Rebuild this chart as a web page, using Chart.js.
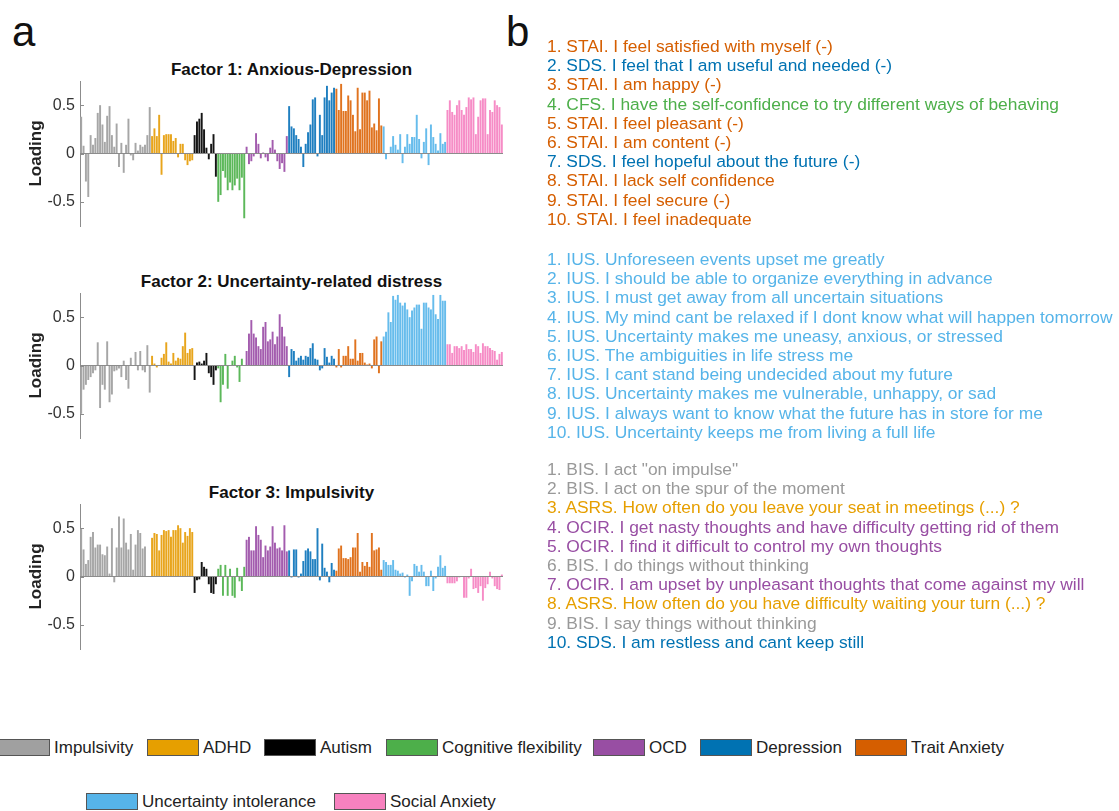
<!DOCTYPE html>
<html>
<head>
<meta charset="utf-8">
<script src="https://cdn.jsdelivr.net/npm/chart.js@4"></script>
<style>
  body { margin: 0; width: 1119px; height: 811px; background: #fff; position: relative; overflow: hidden;
         font-family: "Liberation Sans", Arial, sans-serif; }
  .panel { position: absolute; font-size: 42px; line-height: 42px; color: #111; }
  .box { position: absolute; left: 20px; width: 543px; height: 170px; }
  .ftitle { position: absolute; left: 20px; width: 543px; text-align: center; font-size: 17px; line-height: 20px;
            font-weight: bold; color: #111; white-space: nowrap; }
  .list { position: absolute; left: 547px; font-size: 17.4px; line-height: 19.2px; white-space: nowrap; }
  .item { position: absolute; display: flex; align-items: center; font-size: 17px; line-height: 17px; color: #222; white-space: nowrap; }
  .sw { width: 50px; height: 15px; border: 1px solid #555; margin-right: 4px; }
</style>
</head>
<body>
<div class="panel" style="left:12px; top:11px;">a</div>
<div class="panel" style="left:506px; top:11px;">b</div>

<div class="ftitle" id="t1" style="top:60px;"></div>
<div class="ftitle" id="t2" style="top:272px;"></div>
<div class="ftitle" id="t3" style="top:483px;"></div>
<div class="box" style="top:59px;"><canvas id="f1" width="543" height="170"></canvas></div>
<div class="box" style="top:271px;"><canvas id="f2" width="543" height="170"></canvas></div>
<div class="box" style="top:482px;"><canvas id="f3" width="543" height="170"></canvas></div>

<div class="list" id="list1" style="top:37px;"></div>
<div class="list" id="list2" style="top:250px;"></div>
<div class="list" id="list3" style="top:460px;"></div>

<div id="legend"></div>

<script>
const groups = ["Impulsivity", "ADHD", "Autism", "Cognitive flexibility", "OCD",
  "Depression", "Trait Anxiety", "Uncertainty intolerance", "Social Anxiety"];
const groupColors = ["#a0a0a0", "#e69f00", "#000000", "#4daf4a", "#984ea3",
  "#0072b2", "#d55e00", "#56b4e9", "#f781bf"];
const barColors = ["#a6a6a6", "#e8a51c", "#151515", "#5cb85a", "#a35cae",
  "#1f7fc0", "#e0731f", "#66bcec", "#f68cc6"];

// loadings per questionnaire, in item order
const factor1 = [
  [0.38,0.08,-0.29,-0.45,0.19,0.09,0.16,0.42,0.5,0.3,0.12,0.39,0.49,0.19,0.07,0.31,-0.14,0.11,-0.2,0.09,0.36,-0.02,-0.07,0.11,0.03,0.09,0.07,0.09,0.19,0.48],
  [0.18,0.26,0.18,0.4,-0.22,0.19,0.2,0.2,0.2,0.13,0.16,-0.04,0.1,0.1,-0.07,-0.12,-0.08,-0.07],
  [0.19,0.33,0.36,0.42,0.25,0.06,-0.06,0.1,0.2,-0.24],
  [-0.5,-0.43,-0.18,-0.25,-0.38,-0.3,-0.38,-0.33,-0.26,-0.38,-0.25,-0.67],
  [0.07,-0.11,-0.08,-0.03,0.21,0.1,-0.05,0.01,-0.04,-0.08,0.06,0.14,0.04,-0.08,-0.16,-0.1,-0.19,0.18],
  [0.49,0.28,0.26,0.19,0.15,0.07,-0.14,0.1,0.22,0.3,0.56,0.58,-0.03,0.4,0.19,0.58,0.7,0.55,0.63,0.68],
  [0.67,0.45,0.72,0.44,0.44,0.6,0.55,0.4,0.23,0.68,0.25,0.63,0.63,0.55,0.65,0.27,0.31,0.24,0.57,0.29],
  [0.28,-0.06,0.0,0.07,0.18,0.09,0.04,0.2,-0.1,0.07,0.2,0.1,0.17,0.17,0.4,0.15,-0.05,0.12,0.26,-0.12,0.3,0.17,0.1,0.03,0.21,0.1,0.12],
  [0.45,0.55,0.43,0.4,0.5,0.55,0.45,0.4,0.48,0.58,0.56,0.58,0.2,0.38,0.55,0.57,0.57,0.2,0.45,0.43,0.55,0.5,0.48,0.3]
];
const factor2 = [
  [-0.5,-0.25,-0.2,-0.15,-0.12,-0.08,-0.05,0.24,-0.44,-0.2,-0.25,0.25,-0.38,-0.3,-0.06,-0.05,-0.03,-0.12,0.05,-0.15,-0.24,0.08,0.0,0.14,-0.05,0.15,-0.05,-0.07,0.21,-0.28],
  [0.1,0.02,-0.02,0.0,0.08,0.12,0.24,0.04,0.02,0.13,0.05,0.08,0.07,0.2,0.34,0.13,0.17,0.18],
  [-0.15,0.03,0.04,0.02,0.05,0.13,-0.08,-0.12,-0.2,-0.05],
  [-0.03,-0.38,-0.2,0.12,-0.24,0.0,0.05,0.1,-0.02,-0.17,0.07,0.0],
  [0.15,0.33,0.47,0.33,0.29,0.2,0.17,0.4,0.45,0.25,0.27,0.35,0.22,0.3,0.53,0.4,0.3,0.2],
  [-0.12,0.17,0.15,0.05,0.08,0.1,0.06,0.1,0.09,0.18,0.23,0.07,0.06,-0.05,-0.03,0.18,0.09,0.03,0.1,0.07],
  [-0.02,0.17,-0.02,0.1,0.1,0.2,0.07,0.07,0.27,0.05,0.13,0.13,0.03,0.01,0.02,-0.03,0.27,0.3,-0.08,0.25],
  [0.3,0.35,0.55,0.45,0.72,0.68,0.73,0.65,0.62,0.65,0.58,0.5,0.57,0.6,0.63,0.63,0.38,0.65,0.65,0.6,0.58,0.73,0.53,0.48,0.73,0.67,0.67],
  [0.22,0.22,0.13,0.2,0.2,0.18,0.2,0.16,0.22,0.17,0.17,0.14,0.22,0.2,0.13,0.23,0.2,0.2,0.18,0.16,0.15,0.06,0.12,0.14]
];
const factor3 = [
  [0.5,0.28,0.13,0.17,0.41,0.46,0.3,0.33,0.33,0.23,0.22,0.31,0.03,0.5,-0.06,0.3,0.62,0.3,0.6,0.35,0.28,0.44,0.07,0.33,0.48,0.45,0.29,0.31,0.0,0.0],
  [0.4,0.45,0.44,0.27,0.43,0.48,0.47,0.48,0.41,0.48,0.48,0.53,0.5,0.35,0.46,0.42,0.5,0.46],
  [-0.17,-0.04,-0.03,0.15,0.1,0.08,-0.08,-0.17,-0.18,-0.08],
  [0.08,0.12,-0.2,0.12,-0.2,0.08,-0.2,-0.22,0.09,-0.05,-0.15,0.1],
  [0.38,0.41,0.27,0.27,0.52,0.43,0.38,0.2,0.32,0.27,0.31,0.52,0.35,0.29,0.3,0.27,0.53,0.26],
  [0.27,-0.01,0.28,0.28,-0.01,0.03,0.16,0.27,0.29,0.26,0.18,0.18,0.5,-0.04,0.34,0.09,0.05,-0.06,0.14,0.07],
  [0.06,0.29,0.32,0.19,0.19,0.18,0.2,0.3,0.3,0.45,0.05,0.15,0.11,0.15,0.1,0.45,0.27,0.28,0.3,0.07],
  [0.17,0.15,0.12,0.12,0.17,0.07,0.06,0.03,0.04,-0.01,0.02,-0.2,-0.05,0.13,0.11,0.05,0.12,0.05,-0.1,-0.1,0.06,-0.15,-0.02,0.1,0.22,0.09,0.11],
  [-0.07,-0.07,-0.07,-0.07,-0.05,-0.01,0.0,-0.22,-0.22,-0.02,0.08,-0.13,-0.12,-0.17,-0.1,-0.25,-0.12,-0.08,0.05,-0.02,-0.1,-0.13,-0.14,0.02]
];
const factorTitles = ["Factor 1: Anxious-Depression", "Factor 2: Uncertainty-related distress", "Factor 3: Impulsivity"];
const yTicks = [-0.5, 0, 0.5];

// top 10 items per factor: [questionnaire group index, text]
const top1 = [
  [6, "STAI. I feel satisfied with myself (-)"],
  [5, "SDS. I feel that I am useful and needed (-)"],
  [6, "STAI. I am happy (-)"],
  [3, "CFS. I have the self-confidence to try different ways of behaving"],
  [6, "STAI. I feel pleasant (-)"],
  [6, "STAI. I am content (-)"],
  [5, "SDS. I feel hopeful about the future (-)"],
  [6, "STAI. I lack self confidence"],
  [6, "STAI. I feel secure (-)"],
  [6, "STAI. I feel inadequate"]
];
const top2 = [
  [7, "IUS. Unforeseen events upset me greatly"],
  [7, "IUS. I should be able to organize everything in advance"],
  [7, "IUS. I must get away from all uncertain situations"],
  [7, "IUS. My mind cant be relaxed if I dont know what will happen tomorrow"],
  [7, "IUS. Uncertainty makes me uneasy, anxious, or stressed"],
  [7, "IUS. The ambiguities in life stress me"],
  [7, "IUS. I cant stand being undecided about my future"],
  [7, "IUS. Uncertainty makes me vulnerable, unhappy, or sad"],
  [7, "IUS. I always want to know what the future has in store for me"],
  [7, "IUS. Uncertainty keeps me from living a full life"]
];
const top3 = [
  [0, "BIS. I act \"on impulse\""],
  [0, "BIS. I act on the spur of the moment"],
  [1, "ASRS. How often do you leave your seat in meetings (...) ?"],
  [4, "OCIR. I get nasty thoughts and have difficulty getting rid of them"],
  [4, "OCIR. I find it difficult to control my own thoughts"],
  [0, "BIS. I do things without thinking"],
  [4, "OCIR. I am upset by unpleasant thoughts that come against my will"],
  [1, "ASRS. How often do you have difficulty waiting your turn (...) ?"],
  [0, "BIS. I say things without thinking"],
  [5, "SDS. I am restless and cant keep still"]
];
const textColors = ["#999999", "#e69f00", "#000000", "#4daf4a", "#984ea3", "#0072b2", "#d55e00", "#56b4e9", "#f781bf"];

const inwardTicks = {
  id: "inwardTicks",
  afterDatasetsDraw(chart) {
    const y = chart.scales.y, ctx = chart.ctx, left = chart.chartArea.left;
    ctx.save();
    ctx.strokeStyle = "#8c8c8c";
    ctx.lineWidth = 1;
    yTicks.forEach(v => {
      const py = Math.round(y.getPixelForValue(v)) + 0.5;
      ctx.beginPath();
      ctx.moveTo(left, py);
      ctx.lineTo(left + 4, py);
      ctx.stroke();
    });
    ctx.restore();
  }
};

function drawFactor(id, loadings, titleId, title) {
  document.getElementById(titleId).textContent = title;
  const values = [], colors = [], labels = [];
  loadings.forEach((arr, g) => {
    arr.forEach(v => {
      values.push(v);
      colors.push(barColors[g]);
      labels.push(groups[g] + " " + (labels.length + 1));
    });
  });
  new Chart(document.getElementById(id), {
    type: "bar",
    data: {
      labels: labels,
      datasets: [{
        data: values,
        backgroundColor: colors,
        borderWidth: 0,
        barPercentage: 0.82,
        categoryPercentage: 1
      }]
    },
    options: {
      responsive: false,
      animation: false,
      layout: { padding: { left: 0, right: 60, top: 22, bottom: 3 } },
      plugins: {
        legend: { display: false },
        tooltip: { enabled: false }
      },
      scales: {
        x: { display: false, offset: true },
        y: {
          min: -0.75,
          max: 0.75,
          afterBuildTicks: s => { s.ticks = yTicks.map(v => ({ value: v })); },
          afterFit: s => { s.width = 60; s.paddingTop = 0; s.paddingBottom = 0; },
          ticks: {
            color: "#333",
            padding: 5,
            font: { family: "Liberation Sans", size: 16 },
            callback: v => (v === 0 ? "0" : String(v))
          },
          grid: {
            drawTicks: false,
            color: c => (c.tick && c.tick.value === 0 ? "#8c8c8c" : "rgba(0,0,0,0)"),
            lineWidth: 1
          },
          border: { display: true, color: "#8c8c8c", width: 1 },
          title: {
            display: true,
            text: "Loading",
            color: "#222",
            font: { family: "Liberation Sans", size: 17, weight: "bold" },
            padding: { top: 6, bottom: 0 }
          }
        }
      }
    },
    plugins: [inwardTicks]
  });
}

drawFactor("f1", factor1, "t1", factorTitles[0]);
drawFactor("f2", factor2, "t2", factorTitles[1]);
drawFactor("f3", factor3, "t3", factorTitles[2]);

function fillList(id, items) {
  const el = document.getElementById(id);
  items.forEach((it, i) => {
    const d = document.createElement("div");
    d.style.color = textColors[it[0]];
    d.textContent = (i + 1) + ". " + it[1];
    el.appendChild(d);
  });
}
fillList("list1", top1);
fillList("list2", top2);
fillList("list3", top3);

// legend entries: group index, swatch left, row top
const legendItems = [[0, -2, 739], [1, 147, 739], [2, 264, 739], [3, 386, 739], [4, 593, 739],
  [5, 700, 739], [6, 855, 739], [7, 86, 793], [8, 334, 793]];
const legend = document.getElementById("legend");
legendItems.forEach(([g, x, y]) => {
  const item = document.createElement("div");
  item.className = "item";
  item.style.left = x + "px";
  item.style.top = y + "px";
  const sw = document.createElement("div");
  sw.className = "sw";
  sw.style.background = groupColors[g];
  const t = document.createElement("span");
  t.textContent = groups[g];
  item.appendChild(sw);
  item.appendChild(t);
  legend.appendChild(item);
});
</script>
</body>
</html>
